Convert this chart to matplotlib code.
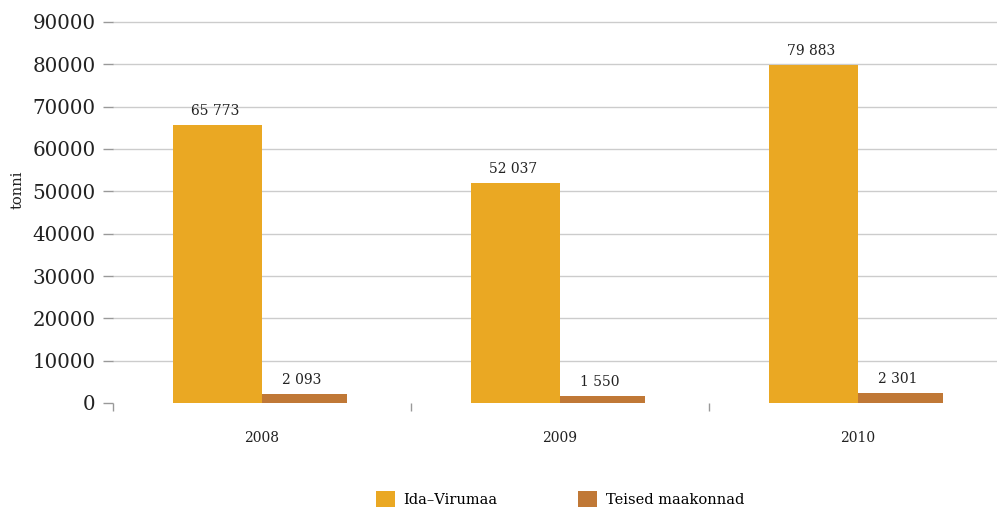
import matplotlib
matplotlib.use("Agg")
import matplotlib.pyplot as plt
import numpy as np
from matplotlib.patches import Patch

years = ["2008", "2009", "2010"]
series_names = ["Ida–Virumaa", "Teised maakonnad"]
ida_virumaa = [65773, 52037, 79883]
teised = [2093, 1550, 2301]
yticks = [0, 10000, 20000, 30000, 40000, 50000, 60000, 70000, 80000, 90000]

colors = ["#EAA823", "#C07836"]

plt.rcParams['font.family'] = ['DejaVu Serif']

fig = plt.figure(figsize=(9.97, 5.09), dpi=100)
W, H = 997, 509
left, right = 113 / W, 997 / W
bottom, top = 1 - 403 / H, 1 - 22 / H
ax = fig.add_axes([left, bottom, right - left, top - bottom])

x = np.arange(len(years))
bw = 0.298
b1 = ax.bar(x, ida_virumaa, -bw, align="edge", color=colors[0], zorder=3)
b2 = ax.bar(x, teised, bw * 0.96, align="edge", color=colors[1], zorder=3)

def fmt(v):
    return f"{v:,}".replace(",", " ")

for bars, vals in ((b1, ida_virumaa), (b2, teised)):
    for r, v in zip(bars, vals):
        ax.annotate(fmt(v), (r.get_x() + r.get_width() / 2, v),
                    xytext=(-2, 5), textcoords="offset points",
                    ha="center", va="bottom", fontsize=10, color="#222222")

ax.set_ylim(0, 90000)
ax.set_xlim(-0.5, (997 - 113) / 298 - 0.5)
ax.set_yticks(yticks)
ax.set_yticklabels([str(t) for t in yticks], fontsize=14.3, color="#222222")
ax.tick_params(axis="y", length=7.5, width=1, color="#999999", pad=5)

ax.yaxis.grid(True, color="#cccccc", linewidth=1, zorder=0)
gl = ax.get_ygridlines()
gl[0].set_visible(False)
for g in gl:
    g.set_clip_on(False)

ax.set_xticks(x)
ax.set_xticklabels(years, fontsize=10, color="#222222")
ax.tick_params(axis="x", which="major", length=0, pad=20)
ax.set_xticks([-0.5, 0.5, 1.5], minor=True)
ax.tick_params(axis="x", which="minor", length=6, width=1, color="#999999")

for s in ax.spines.values():
    s.set_visible(False)

ax.set_ylabel("tonni", fontsize=10.5, color="#222222")
ax.yaxis.set_label_coords(-(113 - 25) / (997 - 113), (403 - 190) / (403 - 22))

handles = [Patch(facecolor=colors[0]), Patch(facecolor=colors[1])]
fig.legend(handles, series_names, loc="center", bbox_to_anchor=(560 / W, 1 - 499 / H),
           ncol=2, frameon=False, fontsize=10.5, handlelength=1.3, handleheight=1.3,
           columnspacing=5.5, handletextpad=0.6)

fig.savefig("out.png", dpi=100)
